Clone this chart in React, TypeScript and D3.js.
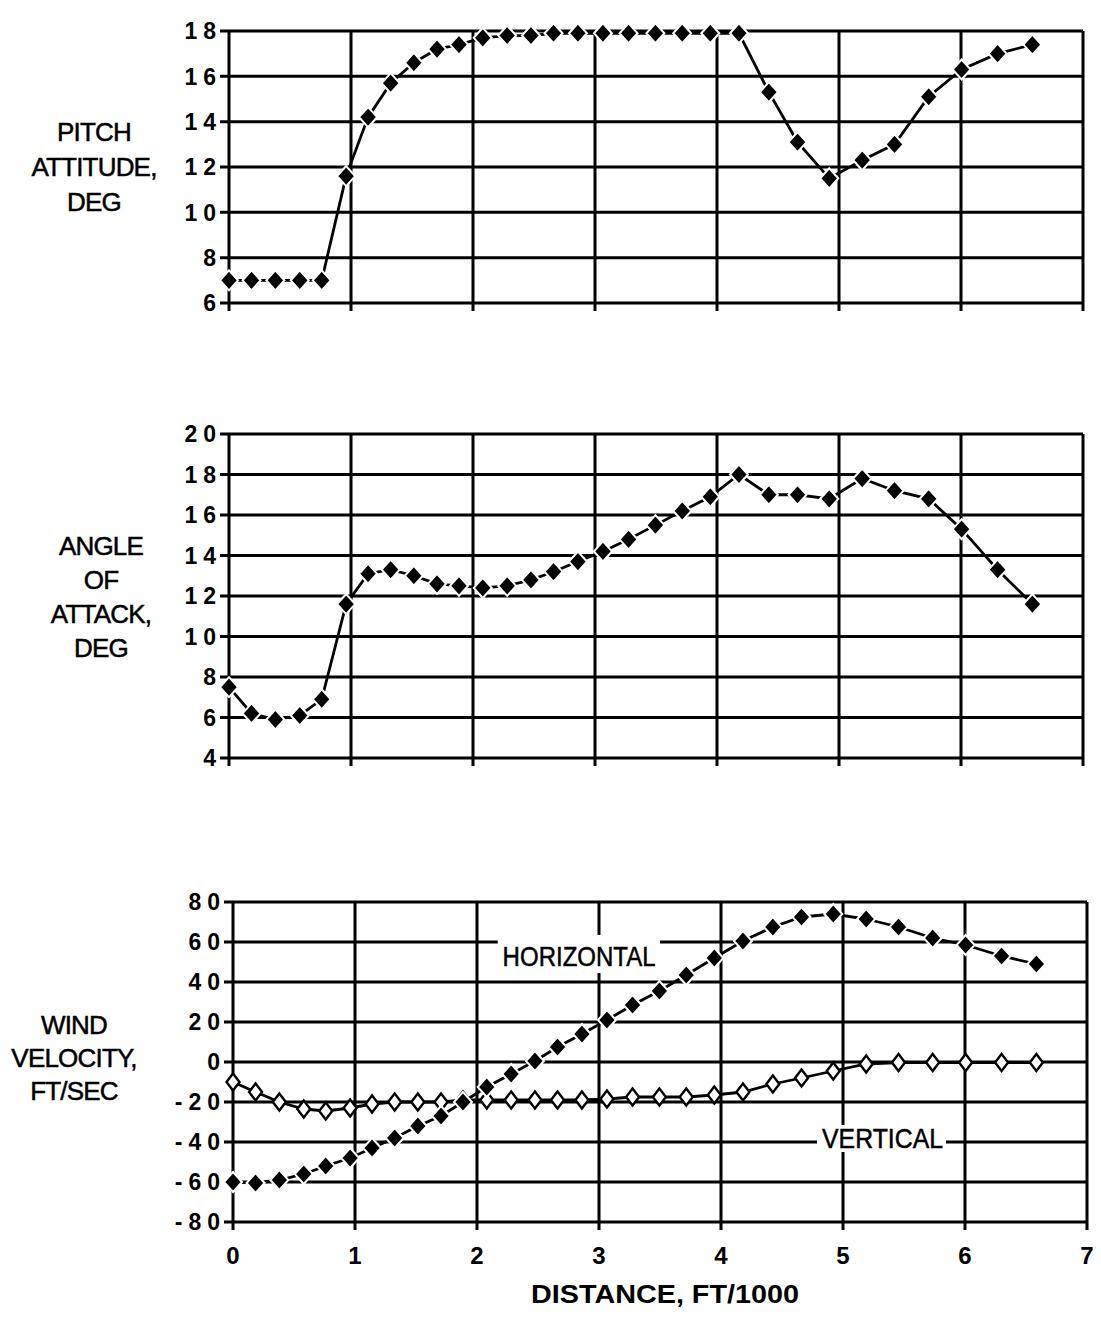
import React from "react";
import * as d3 from "d3";

// ---- data ----
const distance = [0, 0.185, 0.38, 0.58, 0.76, 0.96, 1.14, 1.325, 1.515, 1.705, 1.885, 2.08, 2.28, 2.475, 2.66, 2.86, 3.065, 3.275, 3.495, 3.715, 3.945, 4.18, 4.425, 4.66, 4.92, 5.19, 5.455, 5.735, 6.005, 6.3, 6.585];
const pitch = [7, 7, 7, 7, 7, 11.6, 14.2, 15.7, 16.6, 17.2, 17.4, 17.7, 17.8, 17.8, 17.9, 17.9, 17.9, 17.9, 17.9, 17.9, 17.9, 17.9, 15.3, 13.1, 11.5, 12.3, 13.0, 15.1, 16.3, 17.0, 17.4];
const angleOfAttack = [7.5, 6.2, 5.9, 6.1, 6.9, 11.6, 13.1, 13.3, 13.0, 12.6, 12.5, 12.4, 12.5, 12.8, 13.2, 13.7, 14.2, 14.8, 15.5, 16.2, 16.9, 18.0, 17.0, 17.0, 16.8, 17.8, 17.2, 16.8, 15.3, 13.3, 11.6];
const windHorizontal = [-60, -60.5, -59, -56, -52, -48, -43, -38, -32, -27, -20, -12.5, -6, 0.5, 7.5, 14, 21, 28.5, 35.5, 43.5, 52, 60.5, 67.5, 72.5, 74, 71.5, 67.5, 62, 58.5, 53, 49];
const windVertical = [-10, -15, -20, -23.5, -24.5, -23, -21, -20, -20, -20, -19, -19, -19, -19, -19, -19, -18.5, -17.5, -17.5, -17.5, -16.5, -15, -11, -8, -4.5, -1, -0.3, -0.3, -0.3, -0.3, -0.3];

const xTicks = [0, 1, 2, 3, 4, 5, 6, 7];
const pitchTicks = [6, 8, 10, 12, 14, 16, 18];
const aoaTicks = [4, 6, 8, 10, 12, 14, 16, 18, 20];
const windTicks = [-80, -60, -40, -20, 0, 20, 40, 60, 80];

const pitchTitle = ["PITCH", "ATTITUDE,", "DEG"];
const aoaTitle = ["ANGLE", "OF", "ATTACK,", "DEG"];
const windTitle = ["WIND", "VELOCITY,", "FT/SEC"];
const xTitle = "DISTANCE, FT/1000";
const horizontalLabel = "HORIZONTAL";
const verticalLabel = "VERTICAL";

const FONT = "'Liberation Sans', Arial, Helvetica, sans-serif";

function diamond(cx: number, cy: number, hw: number, hh: number) {
  const p = d3.path();
  p.moveTo(cx, cy - hh);
  p.lineTo(cx + hw, cy);
  p.lineTo(cx, cy + hh);
  p.lineTo(cx - hw, cy);
  p.closePath();
  return p.toString();
}

type Series = { values: number[]; open?: boolean };

function Panel(props: {
  x0: number; x1: number; yTop: number; yBot: number;
  domain: [number, number]; ticks: number[]; series: Series[];
  title: string[]; titleX: number; titleY: number; titleGap: number;
  showXLabels?: boolean; children?: any;
}) {
  const { x0, x1, yTop, yBot, domain, ticks, series, title, titleX, titleY, titleGap, showXLabels } = props;
  const x = d3.scaleLinear().domain([0, 7]).range([x0, x1]);
  const y = d3.scaleLinear().domain(domain).range([yBot, yTop]);
  const line = d3.line<number>().x((_, i) => x(distance[i])).y((d) => y(d));
  return (
    <g>
      {ticks.map((t) => (
        <g key={"h" + t}>
          <line x1={x0 - 9} x2={x1} y1={y(t)} y2={y(t)} stroke="#000" strokeWidth={3} />
          <text x={x0 - 7} y={y(t)} dy="0.36em" textAnchor="end" fontFamily={FONT} fontWeight="bold" fontSize={23} letterSpacing={6}>
            {String(t)}
          </text>
        </g>
      ))}
      {xTicks.map((t) => (
        <g key={"v" + t}>
          <line x1={x(t)} x2={x(t)} y1={yTop} y2={yBot + 8} stroke="#000" strokeWidth={3} />
          {showXLabels && (
            <text x={x(t)} y={yBot + 42} textAnchor="middle" fontFamily={FONT} fontWeight="bold" fontSize={24}>
              {t}
            </text>
          )}
        </g>
      ))}
      {props.children}
      {series.map((s, si) => (
        <g key={"s" + si}>
          <path d={line(s.values) || ""} fill="none" stroke="#000" strokeWidth={2.8} />
          {s.values.map((v, i) =>
            s.open ? (
              <path key={i} d={diamond(x(distance[i]), y(v), 6.5, 8.5)} fill="#fff" stroke="#000" strokeWidth={2.4} />
            ) : (
              <path key={i} d={diamond(x(distance[i]), y(v), 9, 10)} fill="#000" stroke="#fff" strokeWidth={2} />
            )
          )}
        </g>
      ))}
      {title.map((t, i) => (
        <text key={"t" + i} x={titleX} y={titleY + i * titleGap} textAnchor="middle" fontFamily={FONT} fontSize={26}
          letterSpacing={-0.8} stroke="#000" strokeWidth={0.5}>
          {t}
        </text>
      ))}
    </g>
  );
}

export default function App() {
  const windX = d3.scaleLinear().domain([0, 7]).range([233, 1087]);
  const windY = d3.scaleLinear().domain([-80, 80]).range([1222, 902]);
  return (
    <svg width={1101} height={1319} style={{ position: "absolute", left: 0, top: 0, background: "#fff" }}>
      <rect width={1101} height={1319} fill="#fff" />
      <Panel x0={229} x1={1083} yTop={31} yBot={303} domain={[6, 18]} ticks={pitchTicks}
        series={[{ values: pitch }]} title={pitchTitle} titleX={94} titleY={141} titleGap={35} />
      <Panel x0={229} x1={1083} yTop={434} yBot={758} domain={[4, 20]} ticks={aoaTicks}
        series={[{ values: angleOfAttack }]} title={aoaTitle} titleX={101} titleY={555} titleGap={34} />
      <Panel x0={233} x1={1087} yTop={902} yBot={1222} domain={[-80, 80]} ticks={windTicks}
        series={[{ values: windVertical, open: true }, { values: windHorizontal }]}
        title={windTitle} titleX={74} titleY={1034} titleGap={33} showXLabels>
        <rect x={windX(2.17)} y={windY(63.5)} width={windX(3.5) - windX(2.17)} height={windY(44.5) - windY(63.5)} fill="#fff" />
        <text x={windX(2.21)} y={windY(48)} fontFamily={FONT} fontSize={28} textLength={153} lengthAdjust="spacingAndGlyphs"
          stroke="#000" strokeWidth={0.5}>{horizontalLabel}</text>
        <rect x={windX(4.787)} y={windY(-31.5)} width={windX(5.844) - windX(4.787)} height={windY(-45) - windY(-31.5)} fill="#fff" />
        <text x={windX(4.828)} y={windY(-43)} fontFamily={FONT} fontSize={28} textLength={121} lengthAdjust="spacingAndGlyphs"
          stroke="#000" strokeWidth={0.5}>{verticalLabel}</text>
      </Panel>
      <text x={665} y={1303} textAnchor="middle" fontFamily={FONT} fontWeight="bold" fontSize={25} textLength={268}
        lengthAdjust="spacingAndGlyphs">{xTitle}</text>
    </svg>
  );
}
